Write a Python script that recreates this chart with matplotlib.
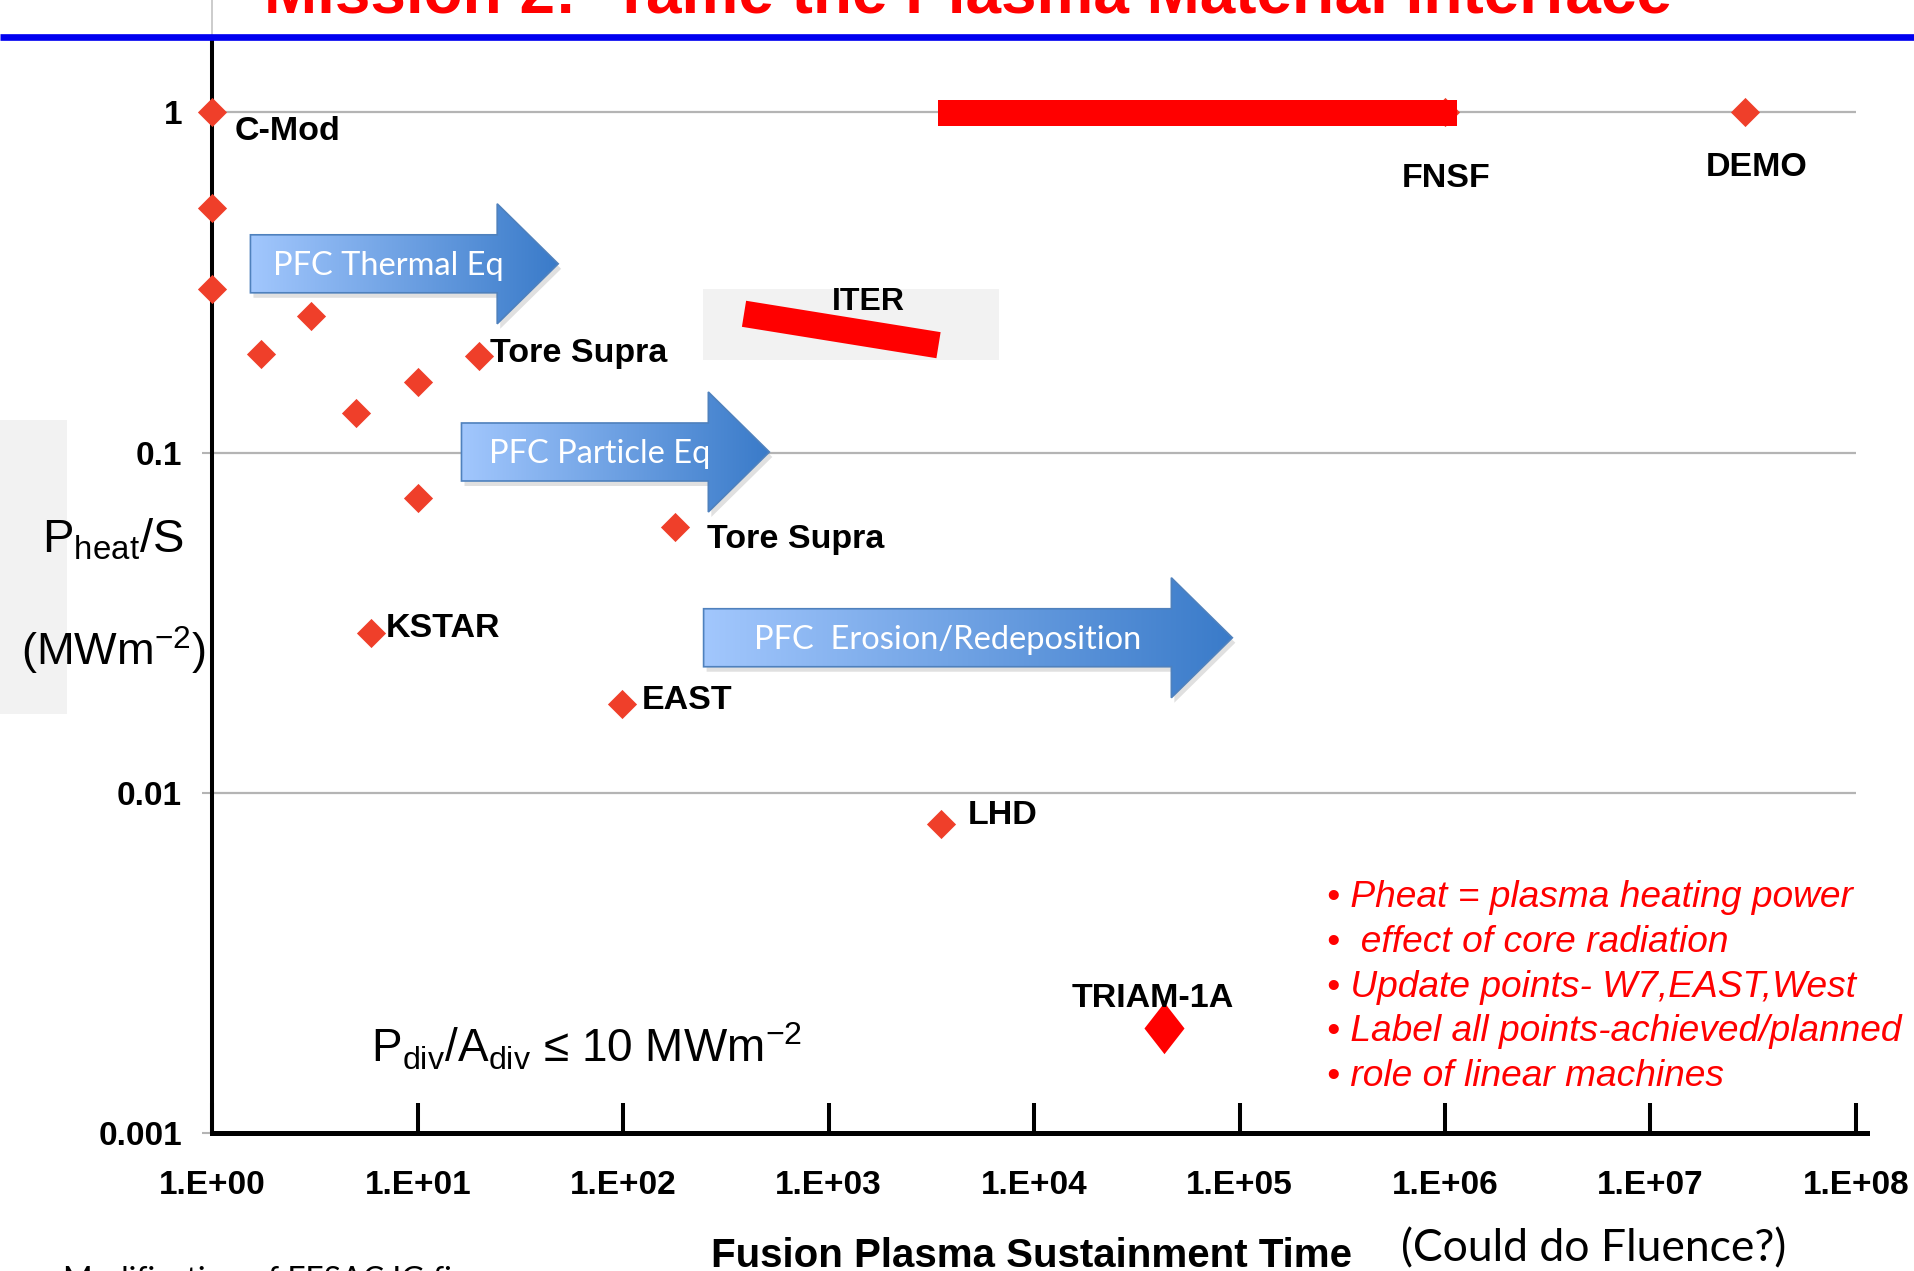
import numpy as np
import matplotlib
matplotlib.use("Agg")
import matplotlib.pyplot as plt
from matplotlib.path import Path
from matplotlib.patches import Polygon, Rectangle
from matplotlib.colors import LinearSegmentedColormap
from matplotlib.ticker import NullLocator

W, H, DPI = 1915, 1271, 100

plt.rcParams["font.family"] = ["Liberation Sans", "DejaVu Sans"]
plt.rcParams["mathtext.default"] = "regular"

# achieved shots: sustainment time (s) vs P_heat/S (MW m^-2)
shot_time = [1.0, 1.0, 1.0, 1.73, 3.0, 5.0, 10.0, 19.8, 10.0, 178.0, 5.94, 98.6, 3530.0]
shot_pheat = [1.0, 0.525, 0.302, 0.195, 0.252, 0.131, 0.161, 0.193, 0.0735, 0.0604, 0.0296, 0.0183, 0.00809]
shot_names = ["C-Mod", "", "", "", "", "", "", "Tore Supra", "", "Tore Supra", "KSTAR", "EAST", "LHD"]

# planned devices
future_names = ["FNSF", "DEMO"]
future_time = [1.0e6, 2.9e7]
future_pheat = [1.0, 1.0]

triam_name = "TRIAM-1A"
triam_time = [4.3e4]
triam_pheat = [0.00204]

# ITER and FNSF operating bands
iter_time = [387.0, 3425.0]
iter_pheat = [0.256, 0.207]
fnsf_time = [3405.0, 1.145e6]
fnsf_pheat = [0.913, 1.087]

# research arrows: start / tip time, level
arrow_labels = ["PFC Thermal Eq", "PFC Particle Eq", "PFC  Erosion/Redeposition"]
arrow_start = [1.53, 16.3, 246.0]
arrow_end = [48.2, 514.0, 9.23e4]
arrow_level = [0.359, 0.1005, 0.0286]

xtick_vals = [1e0, 1e1, 1e2, 1e3, 1e4, 1e5, 1e6, 1e7, 1e8]
xtick_labels = ["1.E+00", "1.E+01", "1.E+02", "1.E+03", "1.E+04", "1.E+05", "1.E+06", "1.E+07", "1.E+08"]
ytick_vals = [0.001, 0.01, 0.1, 1]
ytick_labels = ["0.001", "0.01", "0.1", "1"]
grid_levels = [0.01, 0.1, 1]

notes = [
    "\u2022 Pheat = plasma heating power",
    "\u2022  effect of core radiation",
    "\u2022 Update points- W7,EAST,West",
    "\u2022 Label all points-achieved/planned",
    "\u2022 role of linear machines",
]

SHOT_RED = "#ef3f2a"
RED = "#ff0000"
GRID = "#b4b4b4"

fig = plt.figure(figsize=(W / DPI, H / DPI), dpi=DPI)
ax = fig.add_axes([212.5 / W, 137.6 / H, (1867 - 212.5) / W, 1 - 137.6 / H])
ax.set_xscale("log")
ax.set_yscale("log")
ax.set_xlim(1, 1.135e8)
ax.set_ylim(1e-3, 2.139)
ax.xaxis.set_minor_locator(NullLocator())
ax.yaxis.set_minor_locator(NullLocator())

for s in ["top", "right"]:
    ax.spines[s].set_visible(False)
ax.spines["left"].set_linewidth(2.9)
ax.spines["left"].set_bounds(1e-3, 1.67)
ax.spines["bottom"].set_linewidth(3.6)
ax.plot([1, 1], [1.67, 2.139], color="#c4c4c4", lw=1.2, clip_on=False)

ax.set_xticks(xtick_vals, xtick_labels, fontweight="bold")
ax.set_yticks(ytick_vals, ytick_labels, fontweight="bold")
ax.tick_params(axis="x", direction="in", length=21.6, width=2.9, color="black",
               pad=26, labelsize=24)
ax.tick_params(axis="y", direction="out", length=7, width=1.5, color=GRID,
               pad=15, labelsize=24)

ax.hlines(grid_levels, 1, 1e8, color=GRID, lw=1.6, zorder=1)

# grey backdrop behind ITER
ax.add_patch(Rectangle((244, 0.187), 6750 - 244, 0.303 - 0.187,
                       facecolor="#f2f2f2", edgecolor="none", zorder=0.5))

diamond = Path([(0, 1), (1, 0), (0, -1), (-1, 0), (0, 1)],
               [Path.MOVETO, Path.LINETO, Path.LINETO, Path.LINETO, Path.CLOSEPOLY])
tall_diamond = Path([(0, 1), (0.78, 0), (0, -1), (-0.78, 0), (0, 1)],
                    [Path.MOVETO, Path.LINETO, Path.LINETO, Path.LINETO, Path.CLOSEPOLY])

ax.plot(shot_time, shot_pheat, ls="none", marker=diamond, ms=21, color=SHOT_RED,
        mew=0, clip_on=False, zorder=4)
ax.plot(future_time, future_pheat, ls="none", marker=diamond, ms=21, color=SHOT_RED,
        mew=0, clip_on=False, zorder=2)
ax.plot(triam_time, triam_pheat, ls="none", marker=tall_diamond, ms=37, color=RED,
        mew=0, zorder=4)
ax.plot(iter_time, iter_pheat, color=RED, lw=19, solid_capstyle="butt", zorder=3)
ax.fill_between(fnsf_time, fnsf_pheat[0], fnsf_pheat[1], color=RED, lw=0, zorder=3)

lab = dict(fontsize=24.5, fontweight="bold", color="black", textcoords="offset points",
           va="baseline", zorder=5)
shot_offsets = [(16, -20), None, None, None, None, None, None, (8, -5), None,
                (23, -15), (10, -3), (14, -4), (19, 0)]
for name, x, y, off in zip(shot_names, shot_time, shot_pheat, shot_offsets):
    if name:
        ax.annotate(name, (x, y), xytext=off, ha="left", **lab)
future_offsets = [(1, -54), (8, -46)]
for name, x, y, off in zip(future_names, future_time, future_pheat, future_offsets):
    ax.annotate(name, (x, y), xytext=off, ha="center", **lab)
ax.annotate(triam_name, (triam_time[0], triam_pheat[0]), xytext=(-8, 15), ha="center", **lab)
ax.annotate("ITER", (iter_time[0], iter_pheat[0]), xytext=(89.6, 2.5), ha="center",
            **dict(lab, fontsize=23))

# overlay in figure pixels for annotations
ov = fig.add_axes([0, 0, 1, 1], zorder=5)
ov.set_xlim(0, W)
ov.set_ylim(0, H)
ov.set_autoscale_on(False)
ov.axis("off")

cmap = LinearSegmentedColormap.from_list("pfc", ["#a2c7fd", "#3a7bc9"])
grad = np.linspace(0, 1, 256).reshape(1, -1)
text_pad = [23, 28, 50]
bh, hh, hl = 29, 60, 61
for label, xs, xe, lv, tp in zip(arrow_labels, arrow_start, arrow_end, arrow_level, text_pad):
    x0, yc = ax.transData.transform((xs, lv))
    x1, _ = ax.transData.transform((xe, lv))
    verts = [(x0, yc + bh), (x1 - hl, yc + bh), (x1 - hl, yc + hh), (x1, yc),
             (x1 - hl, yc - hh), (x1 - hl, yc - bh), (x0, yc - bh)]
    shadow = Polygon([(vx + 3, vy - 5) for vx, vy in verts], closed=True,
                     facecolor="black", alpha=0.12, edgecolor="none", zorder=1)
    ov.add_patch(shadow)
    poly = Polygon(verts, closed=True, facecolor="none", edgecolor="#4f81bd", lw=1.2, zorder=3)
    ov.add_patch(poly)
    im = ov.imshow(grad, cmap=cmap, extent=(x0, x1, yc - hh, yc + hh), aspect="auto",
                   zorder=2, interpolation="bilinear")
    im.set_clip_path(poly)
    ov.text(x0 + tp, yc - 11.5, label, color="white", fontsize=23.5, family="Lato",
            va="baseline", ha="left", zorder=4)

# y-label backdrop and labels
ov.add_patch(Rectangle((0, H - 714), 67, 294, facecolor="#f2f2f2", edgecolor="none", zorder=0))
ov.text(113, H - 552, "P$_{heat}$/S", fontsize=34, ha="center", va="baseline")
ov.text(113, H - 665.6, "(MWm$^{-2}$)", fontsize=32.5, ha="center", va="baseline")
ov.text(371, H - 1062.5, "P$_{div}$/A$_{div}$ \u2264 10 MWm$^{-2}$", fontsize=33,
        ha="left", va="baseline")

# title strip
ov.text(968, H - 12.7, "Mission 2:  Tame the Plasma Material Interface", color=RED,
        fontsize=46, fontweight="bold", ha="center", va="baseline")
ov.plot([0, W], [H - 36.7, H - 36.7], color="#0000f0", lw=4.8, solid_capstyle="butt")

for i, line in enumerate(notes):
    ov.text(1327, H - (907.4 + 44.6 * i), line, color=RED, fontsize=26.7, style="italic",
            ha="left", va="baseline")

ov.text(1032, H - 1267, "Fusion Plasma Sustainment Time", fontsize=29, fontweight="bold",
        ha="center", va="baseline")
ov.text(1594, H - 1261, "(Could do Fluence?)", fontsize=32, family="Lato",
        ha="center", va="baseline")
ov.text(63.5, H - 1265.5, "Modification of FESAC IG figure", fontsize=23, family="Lato",
        ha="left", va="top")

fig.savefig("out.png", dpi=DPI)
